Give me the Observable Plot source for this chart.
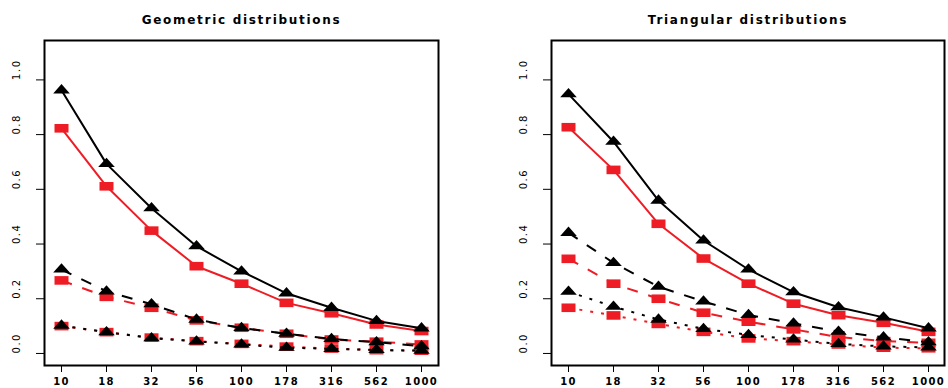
<!DOCTYPE html>
<html>
<head>
<meta charset="utf-8">
<script src="https://cdn.jsdelivr.net/npm/d3@7"></script>
<script src="https://cdn.jsdelivr.net/npm/@observablehq/plot@0.6"></script>
<style>
  html, body { margin: 0; padding: 0; background: #fff; }
  #wrap { display: flex; width: 948px; height: 388px; }
</style>
</head>
<body>
<div id="wrap"></div>
<script>
// ---- data ----
const xLabels = ["10", "18", "32", "56", "100", "178", "316", "562", "1000"];
const yTicks = [0, 0.2, 0.4, 0.6, 0.8, 1.0];

const geoTitle = "Geometric distributions";
const geoSolidBlack  = [0.962, 0.693, 0.531, 0.392, 0.300, 0.220, 0.167, 0.119, 0.092];
const geoSolidRed    = [0.823, 0.611, 0.449, 0.319, 0.255, 0.185, 0.147, 0.106, 0.082];
const geoDashedBlack = [0.307, 0.227, 0.180, 0.124, 0.093, 0.072, 0.053, 0.041, 0.027];
const geoDashedRed   = [0.267, 0.207, 0.167, 0.121, 0.094, 0.072, 0.051, 0.043, 0.033];
const geoDottedBlack = [0.102, 0.078, 0.056, 0.044, 0.033, 0.021, 0.017, 0.013, 0.010];
const geoDottedRed   = [0.100, 0.078, 0.058, 0.045, 0.035, 0.025, 0.018, 0.012, 0.010];

const triTitle = "Triangular distributions";
const triSolidBlack  = [0.948, 0.774, 0.559, 0.413, 0.307, 0.224, 0.169, 0.132, 0.092];
const triSolidRed    = [0.827, 0.671, 0.474, 0.347, 0.255, 0.182, 0.140, 0.112, 0.079];
const triDashedBlack = [0.441, 0.331, 0.244, 0.190, 0.141, 0.110, 0.080, 0.059, 0.041];
const triDashedRed   = [0.346, 0.255, 0.200, 0.149, 0.116, 0.088, 0.060, 0.045, 0.039];
const triDottedBlack = [0.226, 0.171, 0.124, 0.090, 0.068, 0.051, 0.035, 0.026, 0.022];
const triDottedRed   = [0.167, 0.139, 0.108, 0.079, 0.055, 0.045, 0.033, 0.021, 0.019];

// ---- styling ----
const RED = "#ee1c24";
const DASH = {solid: null, dashed: "11,11", dotted: "3,8"};

const triSym = {draw(ctx) { ctx.moveTo(0, -6.2); ctx.lineTo(8.3, 3.1); ctx.lineTo(-8.3, 3.1); ctx.closePath(); }};
const sqSym  = {draw(ctx) { ctx.moveTo(-7, -4.3); ctx.lineTo(7, -4.3); ctx.lineTo(7, 4.3); ctx.lineTo(-7, 4.3); ctx.closePath(); }};

function toRows(vals) { return vals.map((v, i) => ({x: xLabels[i], y: v})); }

function panel(title, series, mLeft, mRight) {
  const marks = [];
  for (const s of series) {
    const rows = toRows(s.values);
    marks.push(Plot.line(rows, {x: "x", y: "y", stroke: s.color, strokeWidth: 2,
      strokeDasharray: DASH[s.lty], strokeLinecap: "butt"}));
    marks.push(Plot.dot(rows, {x: "x", y: "y", symbol: s.color === "black" ? triSym : sqSym,
      fill: s.color, stroke: "none"}));
  }
  const svg = Plot.plot({
    width: 474,
    height: 388,
    marginTop: 40,
    marginBottom: 23,
    marginLeft: mLeft,
    marginRight: mRight,
    style: {fontFamily: "DejaVu Sans", background: "white", overflow: "visible", color: "black"},
    x: {type: "point", domain: xLabels, padding: 0.32},
    y: {domain: [-0.044, 1.144]},
    marks: [
      Plot.axisX({tickSize: 7, tickPadding: 5, fontSize: 10, fontWeight: "bold", label: null}),
      Plot.axisY({ticks: yTicks, tickSize: 8, tickFormat: () => "", label: null}),
      Plot.text(yTicks, {y: d => d, text: d => d.toFixed(1), frameAnchor: "left", dx: -28,
        rotate: -90, fontSize: 10, fill: "black"}),
      ...marks,
      Plot.frame({stroke: "black", strokeWidth: 2}),
      Plot.text([title], {frameAnchor: "top", dy: -25, fontSize: 12, fontWeight: "bold",
        fill: "black"})
    ]
  });
  const yLab = yTicks.map(d => d.toFixed(1));
  d3.select(svg).selectAll("text").each(function () {
    const t = this.textContent;
    if (t === title) this.style.letterSpacing = "1.7px";
    else if (xLabels.includes(t)) this.style.letterSpacing = "1.4px";
    else if (yLab.includes(t)) this.style.letterSpacing = "1.5px";
  });
  return svg;
}

const geoSeries = [
  {values: geoSolidRed, color: RED, lty: "solid"},
  {values: geoDashedRed, color: RED, lty: "dashed"},
  {values: geoDottedRed, color: RED, lty: "dotted"},
  {values: geoSolidBlack, color: "black", lty: "solid"},
  {values: geoDashedBlack, color: "black", lty: "dashed"},
  {values: geoDottedBlack, color: "black", lty: "dotted"}
];
const triSeries = [
  {values: triSolidRed, color: RED, lty: "solid"},
  {values: triDashedRed, color: RED, lty: "dashed"},
  {values: triDottedRed, color: RED, lty: "dotted"},
  {values: triSolidBlack, color: "black", lty: "solid"},
  {values: triDashedBlack, color: "black", lty: "dashed"},
  {values: triDottedBlack, color: "black", lty: "dotted"}
];

const wrap = document.getElementById("wrap");
wrap.appendChild(panel(geoTitle, geoSeries, 44, 36));
wrap.appendChild(panel(triTitle, triSeries, 77, 4));
</script>
</body>
</html>
